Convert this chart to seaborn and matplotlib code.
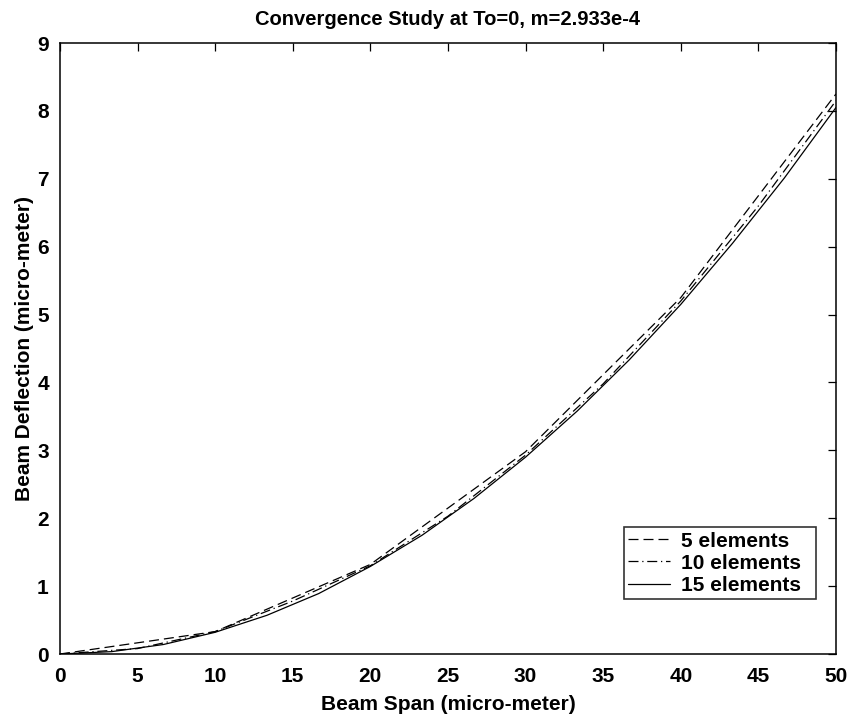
import numpy as np
import pandas as pd
import matplotlib
matplotlib.use("Agg")
import matplotlib.pyplot as plt
import seaborn as sns

# node positions and deflections
x5 = [0, 10, 20, 30, 40, 50]
y5 = [0, 0.33, 1.32, 2.98, 5.25, 8.25]

x10 = [0, 5, 10, 15, 20, 25, 30, 35, 40, 45, 50]
y10 = [0, 0.08, 0.33, 0.78, 1.30, 2.03, 2.93, 3.98, 5.20, 6.60, 8.15]

x15 = [0, 3.333, 6.667, 10, 13.333, 16.667, 20, 23.333, 26.667, 30,
       33.333, 36.667, 40, 43.333, 46.667, 50]
y15 = [0, 0.035, 0.14, 0.32, 0.57, 0.89, 1.29, 1.75, 2.29, 2.90,
       3.58, 4.33, 5.15, 6.05, 7.01, 8.05]

labels = ['5 elements', '10 elements', '15 elements']

df = pd.concat([
    pd.DataFrame({'span': x5, 'defl': y5, 'mesh': labels[0]}),
    pd.DataFrame({'span': x10, 'defl': y10, 'mesh': labels[1]}),
    pd.DataFrame({'span': x15, 'defl': y15, 'mesh': labels[2]}),
])

sns.set_style('white')
plt.rcParams['font.family'] = ['Liberation Sans', 'DejaVu Sans']
plt.rcParams['font.weight'] = 'bold'
plt.rcParams['text.color'] = 'black'
plt.rcParams['axes.labelcolor'] = 'black'

fig = plt.figure(figsize=(8.59, 7.15), dpi=100)
ax = fig.add_axes([0.0698, 0.0853, 0.9034, 0.8545])

sns.lineplot(data=df, x='span', y='defl', hue='mesh', style='mesh',
             palette=['black'] * 3,
             dashes={labels[0]: (8, 4), labels[1]: (8, 3, 1, 3), labels[2]: ''},
             linewidth=0.9, ax=ax, sort=False)

ax.set_xlim(0, 50)
ax.set_ylim(0, 9)
ax.set_xticks(range(0, 51, 5))
ax.set_yticks(range(0, 10))
ax.tick_params(direction='in', top=True, right=True, length=5.5, width=0.9,
               labelsize=15, colors='black')
ax.tick_params(axis='x', pad=9)
ax.tick_params(axis='y', pad=8)
for lab in ax.get_xticklabels() + ax.get_yticklabels():
    lab.set_fontweight('bold')
for s in ax.spines.values():
    s.set_color('black')
    s.set_linewidth(1.1)

ax.set_xlabel('Beam Span (micro-meter)', fontsize=15, fontweight='bold',
              labelpad=7)
ax.set_ylabel('Beam Deflection (micro-meter)', fontsize=15, fontweight='bold',
              labelpad=2)
ax.set_title('Convergence Study at To=0, m=2.933e-4', fontsize=14.5,
             fontweight='bold', pad=13)

handles, names = ax.get_legend_handles_labels()
leg = ax.legend(handles, [n + '  ' for n in names], loc='lower right',
                bbox_to_anchor=(0.9745, 0.09), fontsize=15,
                frameon=True, fancybox=False, edgecolor='black',
                handlelength=2.0, borderpad=0.2, labelspacing=0.15,
                handletextpad=0.5, borderaxespad=0)
leg.get_frame().set_linewidth(1.2)
for t in leg.get_texts():
    t.set_fontweight('bold')

fig.savefig('out.png', dpi=100)
